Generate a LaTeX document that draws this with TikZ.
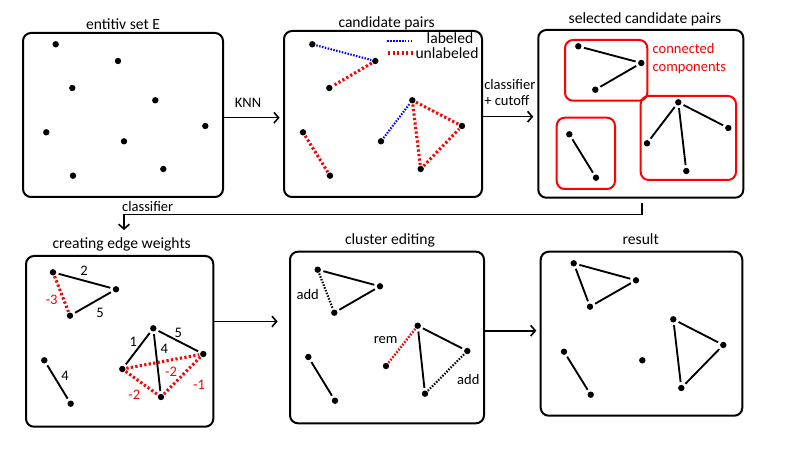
\documentclass[tikz,border=0pt]{standalone}
\usepackage{fontspec}
\setmainfont{Carlito}
\usetikzlibrary{arrows.meta,fit}
\begin{document}
\begin{tikzpicture}[x=0.75pt,y=-0.75pt,
  panel/.style={draw=black, line width=1.5pt, rounded corners=6pt, inner sep=0pt},
  comp/.style={draw=red, line width=1.5pt, rounded corners=6pt, inner sep=0pt},
  dot/.style={circle, fill=black, inner sep=0pt, minimum size=4.8pt},
  lnk/.style={line width=1.4pt, shorten >=1.8pt, shorten <=1.8pt},
  rdot/.style={red, line width=2.3pt, dash pattern=on 1.7pt off 1.7pt, shorten >=0.5pt, shorten <=0.5pt},
  bdot/.style={blue, line width=1.6pt, dash pattern=on 1.1pt off 1.1pt, shorten >=0.5pt, shorten <=0.5pt},
  kdot/.style={black, line width=1.6pt, dash pattern=on 1.1pt off 1.1pt, shorten >=0.5pt, shorten <=0.5pt},
  arr/.style={line width=1.2pt, -{Straight Barb[length=3.5pt,width=8pt,line width=1.2pt]}},
  ttl/.style={font=\fontsize{11.7}{13}\selectfont, inner sep=0pt, anchor=base},
  lbl/.style={font=\fontsize{10.9}{13}\selectfont, inner sep=0pt, anchor=base},
  rlbl/.style={lbl, text=red},
]
\useasboundingbox (0,0) rectangle (800,449);

% panels
\node[panel, fit={(23,33) (223,197)}] (p1) {};
\node[panel, fit={(284,31) (482,197)}] (p2) {};
\node[panel, fit={(538.3,30) (743.3,197.7)}] (p3) {};
\node[panel, fit={(26,256) (213.3,426.7)}] (p4) {};
\node[panel, fit={(290,251.7) (484,423.3)}] (p5) {};
\node[panel, fit={(540.7,251.7) (742.3,415.7)}] (p6) {};

% component boxes
\node[comp, fit={(565,40) (647.3,100.7)}] (cA) {};
\node[comp, fit={(556.7,117.7) (615,189)}] (cB) {};
\node[comp, fit={(640.7,96) (736,180)}] (cC) {};

% titles
\node[ttl] (t1) at (123,29.3) {entitiv set E};
\node[ttl] (t2) at (386.7,27.3) {candidate pairs};
\node[ttl] (t3) at (645,24) {selected candidate pairs};
\node[ttl] (t4) at (121.7,248.3) {creating edge weights};
\node[ttl] (t5) at (390,244.3) {cluster editing};
\node[ttl] (t6) at (640.7,244.7) {result};

% panel 1 dots
\node[dot] (a1) at (55.7,44.3) {};
\node[dot] (a2) at (118,61) {};
\node[dot] (a3) at (72.3,88) {};
\node[dot] (a4) at (155.3,100.3) {};
\node[dot] (a5) at (46.3,132.3) {};
\node[dot] (a6) at (205.3,126) {};
\node[dot] (a7) at (124,141.3) {};
\node[dot] (a8) at (73,175.7) {};
\node[dot] (a9) at (163.3,169) {};

% panel 2
\node[dot] (b1) at (312.3,44.3) {};
\node[dot] (b2) at (375.3,61) {};
\node[dot] (b3) at (329.3,88) {};
\node[dot] (b4) at (412.3,100.3) {};
\node[dot] (b5) at (462,126) {};
\node[dot] (b6) at (303,132.3) {};
\node[dot] (b7) at (381,141.3) {};
\node[dot] (b8) at (330,175.7) {};
\node[dot] (b9) at (420.7,169) {};
\draw[bdot] (b1) -- (b2);
\draw[rdot] (b2) -- (b3);
\draw[bdot] (b7) -- (b4);
\draw[rdot] (b4) -- (b5);
\draw[rdot] (b4) -- (b9);
\draw[rdot] (b9) -- (b5);
\draw[rdot] (b6) -- (b8);
% legend
\coordinate (lb1) at (386.7,41.2);
\coordinate (lb2) at (411.7,41.2);
\coordinate (lr1) at (387.3,53);
\coordinate (lr2) at (413.3,53);
\draw[bdot] (lb1) -- (lb2);
\draw[rdot] (lr1) -- (lr2);
\node[ttl] (leg1) at (450,44) {labeled};
\node[ttl] (leg2) at (447,58.2) {unlabeled};

% panel 3
\node[dot] (c1) at (578.3,46.3) {};
\node[dot] (c2) at (641.3,63) {};
\node[dot] (c3) at (595.3,89.7) {};
\node[dot] (c4) at (678.3,102.3) {};
\node[dot] (c5) at (728.3,128) {};
\node[dot] (c6) at (647,143.3) {};
\node[dot] (c7) at (686.3,171) {};
\node[dot] (c8) at (569.3,134.3) {};
\node[dot] (c9) at (596,177.7) {};
\draw[lnk] (c1) -- (c2);
\draw[lnk] (c2) -- (c3);
\draw[lnk] (c4) -- (c5);
\draw[lnk] (c4) -- (c6);
\draw[lnk] (c4) -- (c7);
\draw[lnk] (c8) -- (c9);
\node[rlbl, anchor=base west] (cc1) at (652.3,54) {connected};
\node[rlbl, anchor=base west] (cc2) at (652.3,71.7) {components};

% panel 4
\node[dot] (d1) at (53,272.3) {};
\node[dot] (d2) at (116,289.3) {};
\node[dot] (d3) at (70,315.7) {};
\node[dot] (d4) at (153.3,328.3) {};
\node[dot] (d5) at (203.3,354) {};
\node[dot] (d6) at (122.3,369) {};
\node[dot] (d7) at (161,397) {};
\node[dot] (d8) at (44.3,360.3) {};
\node[dot] (d9) at (70.7,403.7) {};
\draw[lnk] (d1) -- (d2);
\draw[lnk] (d2) -- (d3);
\draw[rdot] (d1) -- (d3);
\draw[lnk] (d4) -- (d6);
\draw[lnk] (d4) -- (d5);
\draw[lnk] (d4) -- (d7);
\draw[rdot] (d6) -- (d5);
\draw[rdot] (d6) -- (d7);
\draw[rdot] (d5) -- (d7);
\draw[lnk] (d8) -- (d9);
\node[lbl] (w1) at (84,275) {2};
\node[lbl] (w2) at (100,317.7) {5};
\node[rlbl] (w3) at (51.7,304.3) {-3};
\node[lbl] (w4) at (133.3,346.7) {1};
\node[lbl] (w5) at (178.3,337.7) {5};
\node[lbl] (w6) at (164.3,353.3) {4};
\node[rlbl] (w7) at (171,376.7) {-2};
\node[rlbl] (w8) at (134.3,399) {-2};
\node[rlbl] (w9) at (199,389.3) {-1};
\node[lbl] (w10) at (65,380) {4};

% panel 5
\node[dot] (e1) at (317.7,269.7) {};
\node[dot] (e2) at (380,286.3) {};
\node[dot] (e3) at (334.3,312.7) {};
\node[dot] (e4) at (417.7,325.7) {};
\node[dot] (e5) at (467.3,351) {};
\node[dot] (e6) at (386,366) {};
\node[dot] (e7) at (425,393.7) {};
\node[dot] (e8) at (308.3,357) {};
\node[dot] (e9) at (335,400.7) {};
\draw[lnk] (e1) -- (e2);
\draw[lnk] (e2) -- (e3);
\draw[kdot] (e1) -- (e3);
\draw[rdot, line width=1.8pt, dash pattern=on 1.2pt off 1.2pt] (e6) -- (e4);
\draw[lnk] (e4) -- (e5);
\draw[lnk] (e4) -- (e7);
\draw[kdot] (e7) -- (e5);
\draw[lnk] (e8) -- (e9);
\node[lbl] (ad1) at (307.7,299.3) {add};
\node[lbl] (rm) at (385.7,343.3) {rem};
\node[lbl] (ad2) at (468.3,384) {add};

% panel 6
\node[dot] (f1) at (573.7,263.3) {};
\node[dot] (f2) at (636,280.3) {};
\node[dot] (f3) at (590,306.7) {};
\node[dot] (f4) at (673.3,319.3) {};
\node[dot] (f5) at (723.3,345) {};
\node[dot] (f6) at (642.3,360.3) {};
\node[dot] (f7) at (681.3,388) {};
\node[dot] (f8) at (564,351.7) {};
\node[dot] (f9) at (590.7,394.7) {};
\draw[lnk] (f1) -- (f2);
\draw[lnk] (f2) -- (f3);
\draw[lnk] (f3) -- (f1);
\draw[lnk] (f4) -- (f5);
\draw[lnk] (f5) -- (f7);
\draw[lnk] (f7) -- (f4);
\draw[lnk] (f8) -- (f9);

% arrows
\coordinate (ky1) at (0,117.7);
\coordinate (ky2) at (0,116.7);
\coordinate (ky4) at (0,321.5);
\coordinate (ky5) at (0,330.7);
\draw[arr, shorten >=2.5pt] (p1.east |- ky1) -- (p2.west |- ky1);
\draw[arr, shorten >=3pt] (p2.east |- ky2) -- (p3.west |- ky2);
\draw[arr, shorten >=8.5pt] (p4.east |- ky4) -- (p5.west |- ky4);
\draw[arr, shorten >=2.5pt] (p5.east |- ky5) -- (p6.west |- ky5);
\node[lbl] (knn) at (248,107.3) {KNN};
\node[lbl, anchor=base west] (cl1) at (484,90) {classifier};
\node[lbl, anchor=base west] (cl2) at (484,106) {+ cutoff};

\coordinate (cs) at (641.7,203);
\coordinate (cm1) at (641.7,214.5);
\coordinate (cm2) at (124,214.5);
\coordinate (ce) at (124,230);
\draw[line width=1.2pt] (cs) -- (cm1) -- (cm2);
\draw[arr] (cm2) -- (ce);
\node[lbl] (cl3) at (147.7,211.2) {classifier};
\end{tikzpicture}
\end{document}
